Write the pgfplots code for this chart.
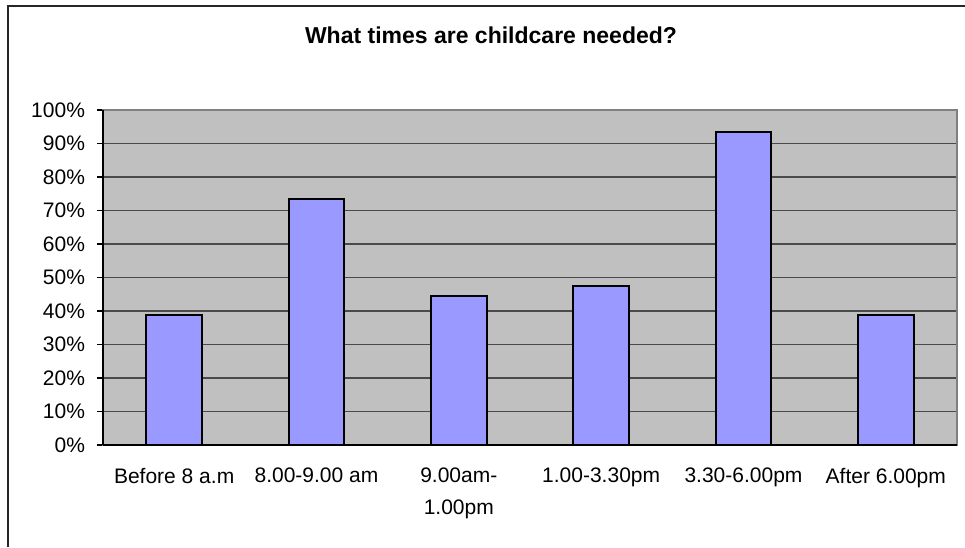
\documentclass[border=0pt]{standalone}
\usepackage{pgfplots}
\pgfplotsset{compat=1.18}
\usepackage{fontspec}
\setmainfont{Liberation Sans}
\definecolor{plotbg}{HTML}{C0C0C0}
\definecolor{barfill}{HTML}{9999FF}
\definecolor{gridc}{HTML}{4A4A4A}
\definecolor{framec}{HTML}{808080}

\begin{document}
\begin{tikzpicture}[x=0.5pt,y=0.5pt]
% page = 965 x 547 px, 1px = 0.5pt
\useasboundingbox (0,0) rectangle (965,547);
\draw[line width=1pt, black!85] (8,0) -- (8,541) -- (965,541);
\node[font=\fontsize{11.5}{13}\selectfont\bfseries] at (491,512) {What times are childcare needed?};

\begin{axis}[
  at={(51.5pt,51pt)}, anchor=south west,
  scale only axis, width=427pt, height=167.5pt,
  axis background/.style={fill=plotbg},
  axis line style={framec, line width=0.6pt},
  xmin=-0.5, xmax=5.5, ymin=0, ymax=100,
  ybar, bar width=0.39,
  ytick={0,10,...,100},
  yticklabels={0\%,10\%,20\%,30\%,40\%,50\%,60\%,70\%,80\%,90\%,100\%},
  ymajorgrids, grid style={gridc, line width=0.6pt},
  xtick={0,...,5},
  xticklabels={Before 8 a.m, 8.00-9.00 am, 9.00am-\\1.00pm, 1.00-3.30pm, 3.30-6.00pm, After 6.00pm},
  xtick style={draw=none},
  extra x ticks={-0.5,0.5,1.5,2.5,3.5,4.5,5.5},
  extra x tick labels={},
  extra x tick style={grid=none, tick style={draw=black, line width=0.6pt}},
  xtick pos=bottom, ytick pos=left,
  tick align=outside, major tick length=3pt,
  ytick style={draw=black, line width=0.6pt},
  ticklabel style={font=\fontsize{10.5}{16}\selectfont},
  xticklabel style={align=center, yshift=-5pt},
  yticklabel style={xshift=-2.5pt},
  clip=false,
]
\addplot[fill=barfill, draw=black, line width=1pt] coordinates {
  (0,38.7) (1,73.3) (2,44.6) (3,47.6) (4,93.5) (5,38.7)
};
\draw[black, line width=0.8pt] (axis cs:-0.5,0) -- (axis cs:-0.5,100);
\draw[black, line width=0.8pt] (axis cs:-0.5,0) -- (axis cs:5.5,0);
\end{axis}
\end{tikzpicture}
\end{document}
